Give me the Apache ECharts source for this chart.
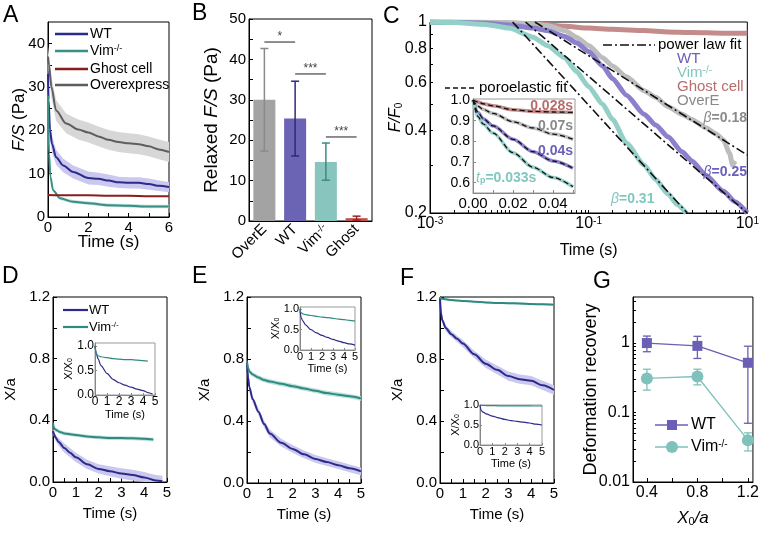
<!DOCTYPE html>
<html lang="en">
<head>
<meta charset="UTF-8">
<title>Relaxation panels</title>
<script src="https://cdn.jsdelivr.net/npm/echarts@6/dist/echarts.min.js"></script>
<style>
  html, body { margin: 0; padding: 0; background: #fff; }
  #main { width: 762px; height: 533px; }
</style>
</head>
<body>
<div id="main"></div>
<script>
var FONT = '"Liberation Sans", Arial, sans-serif';

// ---- A: F/S (Pa) vs time
var aWtT = [0, 0.03, 0.1, 0.2, 0.4, 0.75, 1.25, 2, 2.5, 3, 3.5, 4, 4.5, 5, 5.5, 6];
var aWt = [33, 27, 20, 16.8, 13.8, 11.9, 10.4, 9.0, 8.8, 8.4, 8.0, 7.9, 7.9, 7.6, 7.2, 6.9];
var aWtErr = [2, 2, 2, 1.9, 1.7, 1.6, 1.5, 1.5, 1.4, 1.4, 1.3, 1.3, 1.3, 1.3, 1.2, 1.2];
var aOvT = [0, 0.05, 0.17, 0.4, 0.9, 1.5, 2, 2.5, 3, 3.5, 4, 4.5, 5, 5.5, 6];
var aOv = [37, 35, 30, 24.6, 21.6, 20.2, 19.5, 18.6, 17.8, 17.3, 17.0, 16.8, 16.3, 15.6, 15.0];
var aOvErr = [2.5, 2.5, 2.5, 2.4, 2.3, 2.3, 2.3, 2.3, 2.3, 2.3, 2.3, 2.3, 2.3, 2.3, 2.3];
var aVimT = [0, 0.05, 0.12, 0.25, 0.6, 1.25, 2, 3, 4, 5, 6];
var aVim = [28, 14.7, 9.3, 6.2, 4.3, 3.5, 3.2, 2.7, 2.6, 2.4, 2.4];
var aVimErr = [0.6, 0.6, 0.5, 0.4, 0.4, 0.4, 0.4, 0.4, 0.4, 0.4, 0.4];
var aGhT = [0, 1, 2, 3, 4, 5, 6];
var aGh = [5.1, 5.0, 5.0, 4.9, 4.9, 4.8, 4.8];

// ---- B: relaxed F/S bars
var bCats = ['OverE', 'WT', 'Vim-/-', 'Ghost'];
var bVals = [30, 25.4, 14.6, 0.7];
var bLo = [17.3, 16.1, 10.1, 0.2];
var bHi = [42.7, 34.6, 19.3, 1.2];
var bSig = [[0, 1, 44.3], [1, 2, 36.4], [2, 3, 20.8]];
var bSigText = ['*', '***', '***'];

// ---- C: F/F0 vs time (log-log)
var cGhT = [0.001, 0.002, 0.005, 0.01, 0.02, 0.05, 0.1, 0.2, 0.5, 1, 2, 5, 10];
var cGh = [1, 0.998, 0.995, 0.99, 0.985, 0.965, 0.95, 0.94, 0.93, 0.92, 0.915, 0.91, 0.91];
var cOvT = [0.001, 0.002, 0.005, 0.01, 0.02, 0.03, 0.05, 0.07, 0.1, 0.15, 0.2, 0.3, 0.5, 0.7, 1, 1.5, 2, 3, 4, 5, 6, 6.5, 7];
var cOv = [1, 1, 0.998, 0.995, 0.985, 0.97, 0.93, 0.88, 0.82, 0.74, 0.69, 0.63, 0.56, 0.53, 0.49, 0.46, 0.44, 0.41, 0.39, 0.37, 0.33, 0.3, 0.31];
var cWtT = [0.001, 0.002, 0.005, 0.01, 0.02, 0.03, 0.05, 0.07, 0.1, 0.15, 0.2, 0.3, 0.5, 0.7, 1, 1.5, 2, 3, 5, 7, 10];
var cWt = [1, 0.998, 0.99, 0.975, 0.95, 0.93, 0.885, 0.84, 0.78, 0.69, 0.62, 0.54, 0.46, 0.42, 0.38, 0.335, 0.31, 0.275, 0.24, 0.22, 0.2];
var cVimT = [0.001, 0.002, 0.005, 0.01, 0.02, 0.03, 0.05, 0.07, 0.1, 0.15, 0.2, 0.3, 0.5, 0.7, 1, 1.3, 1.7];
var cVim = [1, 0.995, 0.98, 0.95, 0.88, 0.82, 0.74, 0.66, 0.58, 0.5, 0.44, 0.36, 0.3, 0.265, 0.235, 0.215, 0.2];
var cFitOv = [[0.021, 1], [10, 0.326]];
var cFitWt = [[0.016, 1], [10, 0.2]];
var cFitVim = [[0.011, 1], [1.75, 0.2]];
// C inset (linear)
var ciT = [0, 0.0025, 0.005, 0.01, 0.02, 0.03, 0.04, 0.05];
var ciGh = [1, 0.99, 0.982, 0.972, 0.953, 0.945, 0.942, 0.94];
var ciOv = [1, 0.97, 0.955, 0.935, 0.895, 0.865, 0.835, 0.81];
var ciWt = [1, 0.94, 0.91, 0.875, 0.81, 0.75, 0.705, 0.67];
var ciVim = [1, 0.92, 0.885, 0.84, 0.745, 0.675, 0.625, 0.58];

// ---- D: X/a, small deformation
var dWtT = [0, 0.05, 0.1, 0.25, 0.5, 0.75, 1, 1.5, 2, 2.5, 3, 3.5, 4, 4.5, 4.8];
var dWt = [0.33, 0.31, 0.29, 0.26, 0.22, 0.19, 0.16, 0.115, 0.085, 0.07, 0.055, 0.045, 0.03, 0.01, 0.005];
var dWtErr = [0.02, 0.02, 0.02, 0.025, 0.03, 0.03, 0.03, 0.03, 0.03, 0.032, 0.034, 0.035, 0.035, 0.035, 0.035];
var dVimT = [0, 0.05, 0.1, 0.3, 0.5, 1, 1.5, 2, 2.5, 3, 3.5, 4, 4.4];
var dVim = [0.38, 0.35, 0.34, 0.325, 0.315, 0.305, 0.295, 0.29, 0.285, 0.285, 0.283, 0.28, 0.275];
var dVimErr = [0.012, 0.012, 0.012, 0.012, 0.012, 0.012, 0.012, 0.012, 0.012, 0.012, 0.012, 0.012, 0.012];
var diT = [0, 0.1, 0.25, 0.5, 1, 1.5, 2, 2.5, 3, 3.5, 4, 4.4, 4.8];
var diWt = [1, 0.86, 0.74, 0.6, 0.44, 0.32, 0.25, 0.2, 0.16, 0.12, 0.09, 0.05, 0.02];
var diVim = [1, 0.84, 0.8, 0.78, 0.76, 0.74, 0.73, 0.72, 0.72, 0.71, 0.7, 0.69];

// ---- E: X/a, medium deformation
var eT = [0, 0.05, 0.1, 0.25, 0.5, 0.75, 1, 1.5, 2, 2.5, 3, 3.5, 4, 4.5, 5];
var eWt = [0.78, 0.68, 0.62, 0.54, 0.46, 0.38, 0.32, 0.26, 0.22, 0.185, 0.155, 0.135, 0.115, 0.095, 0.075];
var eWtErr = [0.02, 0.02, 0.02, 0.02, 0.022, 0.024, 0.025, 0.025, 0.025, 0.025, 0.025, 0.025, 0.025, 0.025, 0.025];
var eVim = [0.78, 0.74, 0.72, 0.7, 0.68, 0.665, 0.655, 0.64, 0.625, 0.61, 0.595, 0.58, 0.57, 0.56, 0.545];
var eVimErr = [0.015, 0.015, 0.015, 0.015, 0.015, 0.015, 0.015, 0.015, 0.015, 0.015, 0.015, 0.015, 0.015, 0.015, 0.015];
var eiT = [0, 0.1, 0.25, 0.5, 1, 1.5, 2, 2.5, 3, 3.5, 4, 4.5, 5];
var eiWt = [1, 0.8, 0.72, 0.62, 0.5, 0.42, 0.36, 0.31, 0.26, 0.22, 0.18, 0.15, 0.12];
var eiVim = [1, 0.92, 0.89, 0.87, 0.85, 0.83, 0.81, 0.8, 0.78, 0.76, 0.75, 0.73, 0.71];

// ---- F: X/a, large deformation
var fT = [0, 0.05, 0.1, 0.25, 0.5, 0.75, 1, 1.5, 2, 2.5, 3, 3.5, 4, 4.5, 5];
var fWt = [1.19, 1.09, 1.05, 1.0, 0.96, 0.93, 0.9, 0.83, 0.77, 0.73, 0.69, 0.67, 0.66, 0.63, 0.6];
var fWtErr = [0.01, 0.015, 0.015, 0.02, 0.02, 0.02, 0.022, 0.024, 0.026, 0.028, 0.03, 0.03, 0.03, 0.03, 0.03];
var fVim = [1.195, 1.19, 1.188, 1.185, 1.18, 1.177, 1.175, 1.17, 1.165, 1.162, 1.16, 1.158, 1.155, 1.153, 1.15];
var fVimErr = [0.006, 0.006, 0.006, 0.006, 0.006, 0.006, 0.006, 0.006, 0.006, 0.006, 0.006, 0.006, 0.006, 0.006, 0.006];
var fiT = [0, 0.1, 0.25, 0.5, 1, 1.5, 2, 2.5, 3, 3.5, 4, 4.5, 5];
var fiWt = [1, 0.86, 0.82, 0.78, 0.72, 0.68, 0.64, 0.61, 0.59, 0.57, 0.55, 0.52, 0.5];
var fiVim = [1, 0.99, 0.99, 0.985, 0.985, 0.98, 0.98, 0.98, 0.978, 0.978, 0.976, 0.975, 0.975];

// ---- G: deformation recovery
var gX = [0.4, 0.8, 1.2];
var gWt = [1.0, 0.91, 0.52];
var gWtLo = [0.75, 0.6, 0.07];
var gWtHi = [1.26, 1.25, 0.9];
var gVim = [0.31, 0.33, 0.04];
var gVimLo = [0.21, 0.25, 0.028];
var gVimHi = [0.42, 0.42, 0.051];

// ---- ticks / labels
var t05 = [0, 0.5, 1, 1.5, 2, 2.5, 3, 3.5, 4, 4.5, 5];
var t15 = [0, 1, 2, 3, 4, 5];
var xa12 = [0, 0.2, 0.4, 0.6, 0.8, 1.0, 1.2];
var xa12Lab = [0, 0.4, 0.8, 1.2];
var inLab = [0, 0.5, 1];

function L(v) { return Math.log(v) / Math.LN10; }
function logTicks(a, b) {
  var out = [];
  for (var e = a; e < b; e++) for (var k = 1; k < 10; k++) out.push(L(k) + e);
  out.push(b);
  return out;
}

function richFor(fs) {
  var s = Math.round(fs * 0.65);
  return {
    i: {fontStyle: 'italic', fontSize: fs, fontFamily: FONT},
    b: {fontWeight: 'bold', fontSize: fs, fontFamily: FONT},
    sup: {fontSize: s, fontFamily: FONT, lineHeight: 4, verticalAlign: 'top'},
    sub: {fontSize: s, fontFamily: FONT, lineHeight: 4, verticalAlign: 'bottom'},
    bsub: {fontSize: s, fontWeight: 'bold', fontFamily: FONT, lineHeight: 4, verticalAlign: 'bottom'}
  };
}

function pts(xs, ys, fx, fy) {
  return xs.map(function (x, i) {
    return [fx ? fx(x) : x, fy ? fy(ys[i]) : ys[i]];
  });
}

function line(gi, xs, ys, color, width, o) {
  o = o || {};
  return {
    type: 'line', xAxisIndex: gi, yAxisIndex: gi, silent: true,
    data: pts(xs, ys, o.fx, o.fy), symbol: 'none',
    smooth: o.smooth === undefined ? 0.3 : o.smooth, smoothMonotone: 'x',
    lineStyle: {color: color, width: width, type: o.dash || 'solid'},
    z: o.z || 2
  };
}

// shaded error band drawn as one polygon through the axis scales
function band(gi, xs, ys, err, color, floor) {
  var hi = xs.map(function (x, i) { return [x, ys[i] + err[i]]; });
  var lo = xs.map(function (x, i) { return [x, Math.max(floor, ys[i] - err[i])]; });
  return {
    type: 'custom', xAxisIndex: gi, yAxisIndex: gi, silent: true, z: 1,
    data: [[xs[0], ys[0]]],
    renderItem: function (p, api) {
      var c = function (q) { return api.coord(q); };
      var poly = hi.map(c).concat(lo.slice().reverse().map(c));
      return {type: 'polygon', shape: {points: poly}, style: {fill: color}};
    }
  };
}

function errBars(gi, data, colors, cap, width) {
  return {
    type: 'custom', xAxisIndex: gi, yAxisIndex: gi, data: data, z: 5, silent: true,
    renderItem: function (p, api) {
      var a = api.coord([api.value(0), api.value(1)]);
      var b = api.coord([api.value(0), api.value(2)]);
      var st = {stroke: colors[p.dataIndex % colors.length], lineWidth: width || 1.5};
      return {type: 'group', children: [
        {type: 'line', shape: {x1: a[0], y1: a[1], x2: b[0], y2: b[1]}, style: st},
        {type: 'line', shape: {x1: a[0] - cap, y1: a[1], x2: a[0] + cap, y2: a[1]}, style: st},
        {type: 'line', shape: {x1: b[0] - cap, y1: b[1], x2: b[0] + cap, y2: b[1]}, style: st}
      ]};
    }
  };
}

function axis(gi, o) {
  var col = o.col || '#000';
  var a = {
    gridIndex: gi, type: o.type || 'value',
    axisLine: {show: true, onZero: false, lineStyle: {color: col, width: 1}},
    axisTick: {show: !o.noTicks, inside: true, length: o.tl || 4, lineStyle: {color: col}},
    axisLabel: {show: true, color: '#000', fontFamily: FONT, fontSize: o.fs, margin: o.lm || 3,
      rotate: o.rot || 0, rich: richFor(o.fs), interval: 0, hideOverlap: false,
      showMinLabel: true, showMaxLabel: true},
    splitLine: {show: false},
    name: o.name || '', nameLocation: 'middle', nameGap: o.gap || 20, nameMoveOverlap: false,
    nameTextStyle: {color: '#000', fontFamily: FONT, fontSize: o.nfs || o.fs, rich: richFor(o.nfs || o.fs)}
  };
  if (o.min !== undefined) { a.min = o.min; a.max = o.max; }
  if (o.data) a.data = o.data;
  if (o.ticks) a.axisTick.customValues = o.ticks;
  if (o.labels) a.axisLabel.customValues = o.labels;
  if (o.fmt) a.axisLabel.formatter = o.fmt;
  return a;
}

function f1(v) { return v.toFixed(1); }
function f0(v) { return String(Math.round(v)); }

var grids = [
  {left: 48, top: 22, width: 121, height: 195},   // A
  {left: 249, top: 19, width: 123, height: 202},  // B
  {left: 430, top: 22, width: 318, height: 191},  // C
  {left: 473, top: 99, width: 102, height: 94},   // C inset
  {left: 53, top: 297, width: 114, height: 185},  // D
  {left: 95, top: 343, width: 60, height: 52},    // D inset
  {left: 247, top: 297, width: 114, height: 186}, // E
  {left: 300, top: 307, width: 55, height: 43},   // E inset
  {left: 440, top: 297, width: 114, height: 186}, // F
  {left: 480, top: 405, width: 62, height: 40},   // F inset
  {left: 633, top: 297, width: 122, height: 185}  // G
].map(function (g, i) {
  var inset = i === 3 || i === 5 || i === 7 || i === 9;
  return Object.assign(g, {show: true, backgroundColor: 'rgba(0,0,0,0)',
    borderColor: inset ? '#9a9a9a' : '#000', borderWidth: 1});
});

var timeName = 'Time (s)';
var xAxes = [
  axis(0, {min: 0, max: 6, ticks: t15.concat([6]), labels: [0, 2, 4, 6], fmt: f0, fs: 15, name: timeName, nfs: 17, gap: 17}),
  axis(1, {type: 'category', data: bCats, noTicks: true, rot: 45, fs: 15, lm: 6,
    fmt: function (v) { return v.replace('-/-', '{sup|-/-}'); }}),
  axis(2, {min: -3, max: 1, ticks: logTicks(-3, 1), labels: [-3, -1, 1], fs: 16, tl: 3, name: timeName, nfs: 16, gap: 30,
    fmt: function (v) { return '10{sup|' + Math.round(v) + '}'; }}),
  axis(3, {min: 0, max: 0.051, ticks: [0, 0.01, 0.02, 0.03, 0.04, 0.05], labels: [0, 0.02, 0.04], fs: 15, col: '#888', tl: 3,
    fmt: function (v) { return v.toFixed(2); }}),
  axis(4, {min: 0, max: 5, ticks: t05, labels: t15, fmt: f0, fs: 15, name: timeName, gap: 24}),
  axis(5, {min: 0, max: 5, ticks: t15, labels: t15, fmt: f0, fs: 12, col: '#888', tl: 2, lm: 1, name: timeName, nfs: 11, gap: 14}),
  axis(6, {min: 0, max: 5, ticks: t05, labels: t15, fmt: f0, fs: 15, name: timeName, gap: 24}),
  axis(7, {min: 0, max: 5, ticks: t15, labels: t15, fmt: f0, fs: 11, col: '#888', tl: 2, lm: 1, name: timeName, nfs: 11, gap: 13}),
  axis(8, {min: 0, max: 5, ticks: t05, labels: t15, fmt: f0, fs: 15, name: timeName, gap: 24}),
  axis(9, {min: 0, max: 5, ticks: t15, labels: t15, fmt: f0, fs: 11, col: '#888', tl: 2, lm: 1, name: timeName, nfs: 11, gap: 13}),
  axis(10, {min: 0.29, max: 1.24, ticks: [0.4, 0.6, 0.8, 1.0, 1.2], labels: gX, fmt: f1, fs: 16, name: '{i|X}{sub|0}{i|/a}', nfs: 17, gap: 28})
];

var yAxes = [
  axis(0, {min: 0, max: 45, ticks: [0, 5, 10, 15, 20, 25, 30, 35, 40], labels: [0, 10, 20, 30, 40], fmt: f0, fs: 15, name: '{i|F/S} (Pa)', nfs: 17, gap: 20}),
  axis(1, {min: 0, max: 50, ticks: [0, 5, 10, 15, 20, 25, 30, 35, 40, 45, 50], labels: [0, 10, 20, 30, 40, 50], fmt: f0, fs: 15, name: 'Relaxed {i|F/S} (Pa)', nfs: 19, gap: 28}),
  axis(2, {min: L(0.2), max: 0, ticks: [0.2, 0.3, 0.4, 0.5, 0.6, 0.7, 0.8, 0.9].map(L).concat([0]), labels: [0.2, 0.4, 0.6, 0.8].map(L).concat([0]), fs: 16, tl: 3,
    fmt: function (v) { var n = Math.pow(10, v); return Math.abs(n - 1) < 1e-6 ? '1' : n.toFixed(1); },
    name: '{i|F/F}{sub|0}', nfs: 16, gap: 26}),
  axis(3, {min: 0.55, max: 1.005, ticks: [0.6, 0.7, 0.8, 0.9, 1.0], labels: [0.6, 0.7, 0.8, 0.9, 1.0], fmt: f1, fs: 14, col: '#888', tl: 3}),
  axis(4, {min: 0, max: 1.2, ticks: xa12, labels: xa12Lab, fmt: f1, fs: 15, name: 'X/a', gap: 35}),
  axis(5, {min: 0, max: 1.06, ticks: inLab, labels: inLab, fmt: f1, fs: 12, col: '#888', tl: 2, lm: 1, name: 'X/X{sub|0}', nfs: 11, gap: 21}),
  axis(6, {min: 0, max: 1.2, ticks: xa12, labels: xa12Lab, fmt: f1, fs: 15, name: 'X/a', gap: 35}),
  axis(7, {min: 0, max: 1.06, ticks: inLab, labels: inLab, fmt: f1, fs: 11, col: '#888', tl: 2, lm: 1, name: 'X/X{sub|0}', nfs: 11, gap: 19}),
  axis(8, {min: 0, max: 1.2, ticks: xa12, labels: xa12Lab, fmt: f1, fs: 15, name: 'X/a', gap: 35}),
  axis(9, {min: 0, max: 1.0, ticks: inLab, labels: inLab, fmt: f1, fs: 11, col: '#888', tl: 2, lm: 1, name: 'X/X{sub|0}', nfs: 11, gap: 19}),
  axis(10, {min: -2, max: L(4.6), ticks: logTicks(-2, 0).concat([L(2), L(3), L(4)]), labels: [-2, -1, 0], fs: 16, tl: 3,
    fmt: function (v) { return ['0.01', '0.1', '1'][Math.round(v) + 2]; },
    name: 'Deformation recovery', nfs: 18, gap: 33})
];

// colours
var cWT = '#2c2a8c', cWTb = '#cbc8ee', cVIM = '#2f8a7f', cVIMb = '#bfe1dc';
var cGH = '#8b1c1c', cOV = '#5e5e5e', cOVb = '#d7d7d7';
var lWT = '#8a80cc', lVIM = '#94d0c8', lGH = '#c48b8b', lOV = '#bdbdbd';
var tWT = '#6a5fba', tVIM = '#80c8bf', tGH = '#b86c6c', tOV = '#8a8a8a';
var gWT = '#6a5fb4', gVIM = '#7ec2bb';
var dashDot = [9, 3, 2, 3];

var series = [];
function add(s) { series = series.concat(s); }

// A
add(band(0, aOvT, aOv, aOvErr, cOVb, 0));
add(band(0, aWtT, aWt, aWtErr, cWTb, 0));
add(band(0, aVimT, aVim, aVimErr, cVIMb, 0));
add(line(0, aOvT, aOv, cOV, 2));
add(line(0, aWtT, aWt, cWT, 2));
add(line(0, aVimT, aVim, '#3a8f85', 2));
add(line(0, aGhT, aGh, cGH, 2));

// B
add({type: 'bar', xAxisIndex: 1, yAxisIndex: 1, barWidth: 22, silent: true,
  data: bVals.map(function (v, i) {
    return {value: v, itemStyle: {color: ['#a3a3a3', '#6b63b3', '#88c5bf', '#c0504d'][i]}};
  })});
add(errBars(1, bVals.map(function (v, i) { return [i, bLo[i], bHi[i]]; }),
  ['#8a8a8a', '#2f2a7e', '#3d8a83', '#a02020'], 4, 1.5));
add({type: 'custom', xAxisIndex: 1, yAxisIndex: 1, data: bSig, z: 5, silent: true,
  renderItem: function (p, api) {
    var a = api.coord([api.value(0), api.value(2)]);
    var b = api.coord([api.value(1), api.value(2)]);
    return {type: 'group', children: [
      {type: 'line', shape: {x1: a[0], y1: a[1], x2: b[0], y2: b[1]}, style: {stroke: '#444', lineWidth: 1.2}},
      {type: 'text', style: {text: bSigText[p.dataIndex], x: (a[0] + b[0]) / 2, y: a[1] + 1,
        align: 'center', verticalAlign: 'bottom', fontSize: 12, fontFamily: FONT, fill: '#444'}}
    ]};
  }});

// C (log-log, plotted on log10 values)
var lg = {fx: L, fy: L, smooth: 0.2};
add(line(2, cGhT, cGh, lGH, 5, lg));
add(line(2, cOvT, cOv, lOV, 5, lg));
add(line(2, cWtT, cWt, lWT, 5, lg));
add(line(2, cVimT, cVim, lVIM, 5, lg));
[cFitOv, cFitWt, cFitVim].forEach(function (f) {
  add(line(2, f.map(function (p) { return p[0]; }), f.map(function (p) { return p[1]; }), '#111', 1.6,
    {fx: L, fy: L, smooth: 0, dash: dashDot, z: 4}));
});
// C inset
[[ciGh, lGH], [ciOv, lOV], [ciWt, lWT], [ciVim, lVIM]].forEach(function (c) {
  add(line(3, ciT, c[0], c[1], 3.5));
  add(line(3, ciT, c[0], '#111', 1.3, {dash: [5, 3], z: 4}));
});

// D, E, F
add(band(4, dWtT, dWt, dWtErr, cWTb, 0));
add(band(4, dVimT, dVim, dVimErr, cVIMb, 0));
add(line(4, dWtT, dWt, cWT, 2));
add(line(4, dVimT, dVim, cVIM, 2));
add(line(5, diT, diWt, cWT, 1.2));
add(line(5, diT.slice(0, diVim.length), diVim, cVIM, 1.2));

add(band(6, eT, eWt, eWtErr, cWTb, 0));
add(band(6, eT, eVim, eVimErr, cVIMb, 0));
add(line(6, eT, eWt, cWT, 2));
add(line(6, eT, eVim, cVIM, 2));
add(line(7, eiT, eiWt, cWT, 1.2));
add(line(7, eiT, eiVim, cVIM, 1.2));

add(band(8, fT, fWt, fWtErr, cWTb, 0));
add(band(8, fT, fVim, fVimErr, cVIMb, 0));
add(line(8, fT, fWt, cWT, 2));
add(line(8, fT, fVim, cVIM, 2));
add(line(9, fiT, fiWt, cWT, 1.2));
add(line(9, fiT, fiVim, cVIM, 1.2));

// G
add(errBars(10, gX.map(function (x, i) { return [x, L(gWtLo[i]), L(gWtHi[i])]; }), [gWT], 4, 1.3));
add(errBars(10, gX.map(function (x, i) { return [x, L(gVimLo[i]), L(gVimHi[i])]; }), [gVIM], 4, 1.3));
add({type: 'line', xAxisIndex: 10, yAxisIndex: 10, silent: true, data: pts(gX, gWt, null, L),
  symbol: 'rect', symbolSize: 10, itemStyle: {color: gWT}, lineStyle: {color: gWT, width: 1.3}, z: 6});
add({type: 'line', xAxisIndex: 10, yAxisIndex: 10, silent: true, data: pts(gX, gVim, null, L),
  symbol: 'circle', symbolSize: 12, itemStyle: {color: gVIM}, lineStyle: {color: gVIM, width: 1.3}, z: 6});

// ---- annotations, legends, panel letters
var graphics = [];
function txt(x, y, text, fs, color, o) {
  o = o || {};
  graphics.push({type: 'text', x: x, y: y, z: 20, silent: true, style: {
    text: text, fill: color || '#000', fontSize: fs, fontFamily: FONT, fontWeight: o.bold ? 'bold' : 'normal',
    align: o.align || 'left', verticalAlign: o.va || 'middle', rich: o.rich || richFor(fs)}});
}
function seg(x1, y1, x2, y2, color, w, dash) {
  graphics.push({type: 'line', z: 20, silent: true, shape: {x1: x1, y1: y1, x2: x2, y2: y2},
    style: {stroke: color, lineWidth: w, lineDash: dash || null}});
}

[['A', 3, 4], ['B', 192, 2], ['C', 383, 5], ['D', 2, 265], ['E', 192, 265], ['F', 400, 267], ['G', 593, 270]]
  .forEach(function (l) { txt(l[1], l[2], l[0], 23, '#000', {va: 'top'}); });

// A legend
[[34, cWT, 'WT'], [51, '#3a8f85', 'Vim{sup|-/-}'], [69, cGH, 'Ghost cell'], [85, cOV, 'Overexpress']]
  .forEach(function (r) { seg(55, r[0], 88, r[0], r[1], 2.5); txt(90, r[0], r[2], 14); });

// C legend + annotations
seg(603, 45, 655, 45, '#111', 1.6, dashDot);
txt(658, 45, 'power law fit', 15);
txt(677, 59, 'WT', 15, tWT);
txt(677, 73, 'Vim{sup|-/-}', 15, tVIM);
txt(677, 87, 'Ghost cell', 15, tGH);
txt(677, 101, 'OverE', 15, tOV);
seg(445, 88, 477, 88, '#111', 1.6, [5, 3]);
txt(479, 88, 'poroelastic fit', 15);
var bRich = richFor(14);
bRich.bi = {fontStyle: 'italic', fontSize: 14, fontFamily: FONT, fontWeight: 'normal'};
txt(747, 118, '{bi|\u03b2}=0.18', 14, tOV, {bold: true, align: 'right', rich: bRich});
txt(747, 172, '{bi|\u03b2}=0.25', 14, tWT, {bold: true, align: 'right', rich: bRich});
txt(611, 199, '{bi|\u03b2}=0.31', 14, tVIM, {bold: true, rich: bRich});
txt(573, 106, '0.028s', 14, tGH, {bold: true, align: 'right'});
txt(573, 126, '0.07s', 14, tOV, {bold: true, align: 'right'});
txt(573, 151, '0.04s', 14, tWT, {bold: true, align: 'right'});
var tRich = richFor(14);
tRich.i = {fontStyle: 'italic', fontSize: 14, fontFamily: FONT, fontWeight: 'normal'};
txt(476, 178, '{i|t}{bsub|p}=0.033s', 14, tVIM, {bold: true, rich: tRich});

// D legend
seg(63, 310, 88, 310, cWT, 2.2); txt(89, 310, 'WT', 13);
seg(63, 327, 88, 327, cVIM, 2.2); txt(89, 327, 'Vim{sup|-/-}', 13);

// G legend
seg(655, 425, 688, 425, gWT, 1.3); txt(691, 425, 'WT', 16);
graphics.push({type: 'rect', z: 21, silent: true, shape: {x: 667, y: 420, width: 10, height: 10}, style: {fill: gWT}});
seg(655, 447, 688, 447, gVIM, 1.3); txt(691, 447, 'Vim{sup|-/-}', 16);
graphics.push({type: 'circle', z: 21, silent: true, shape: {cx: 672, cy: 447, r: 6}, style: {fill: gVIM}});

var chart = echarts.init(document.getElementById('main'), null, {renderer: 'canvas'});
chart.setOption({
  animation: false,
  backgroundColor: '#fff',
  textStyle: {fontFamily: FONT},
  grid: grids,
  xAxis: xAxes,
  yAxis: yAxes,
  series: series,
  graphic: graphics
});
</script>
</body>
</html>
